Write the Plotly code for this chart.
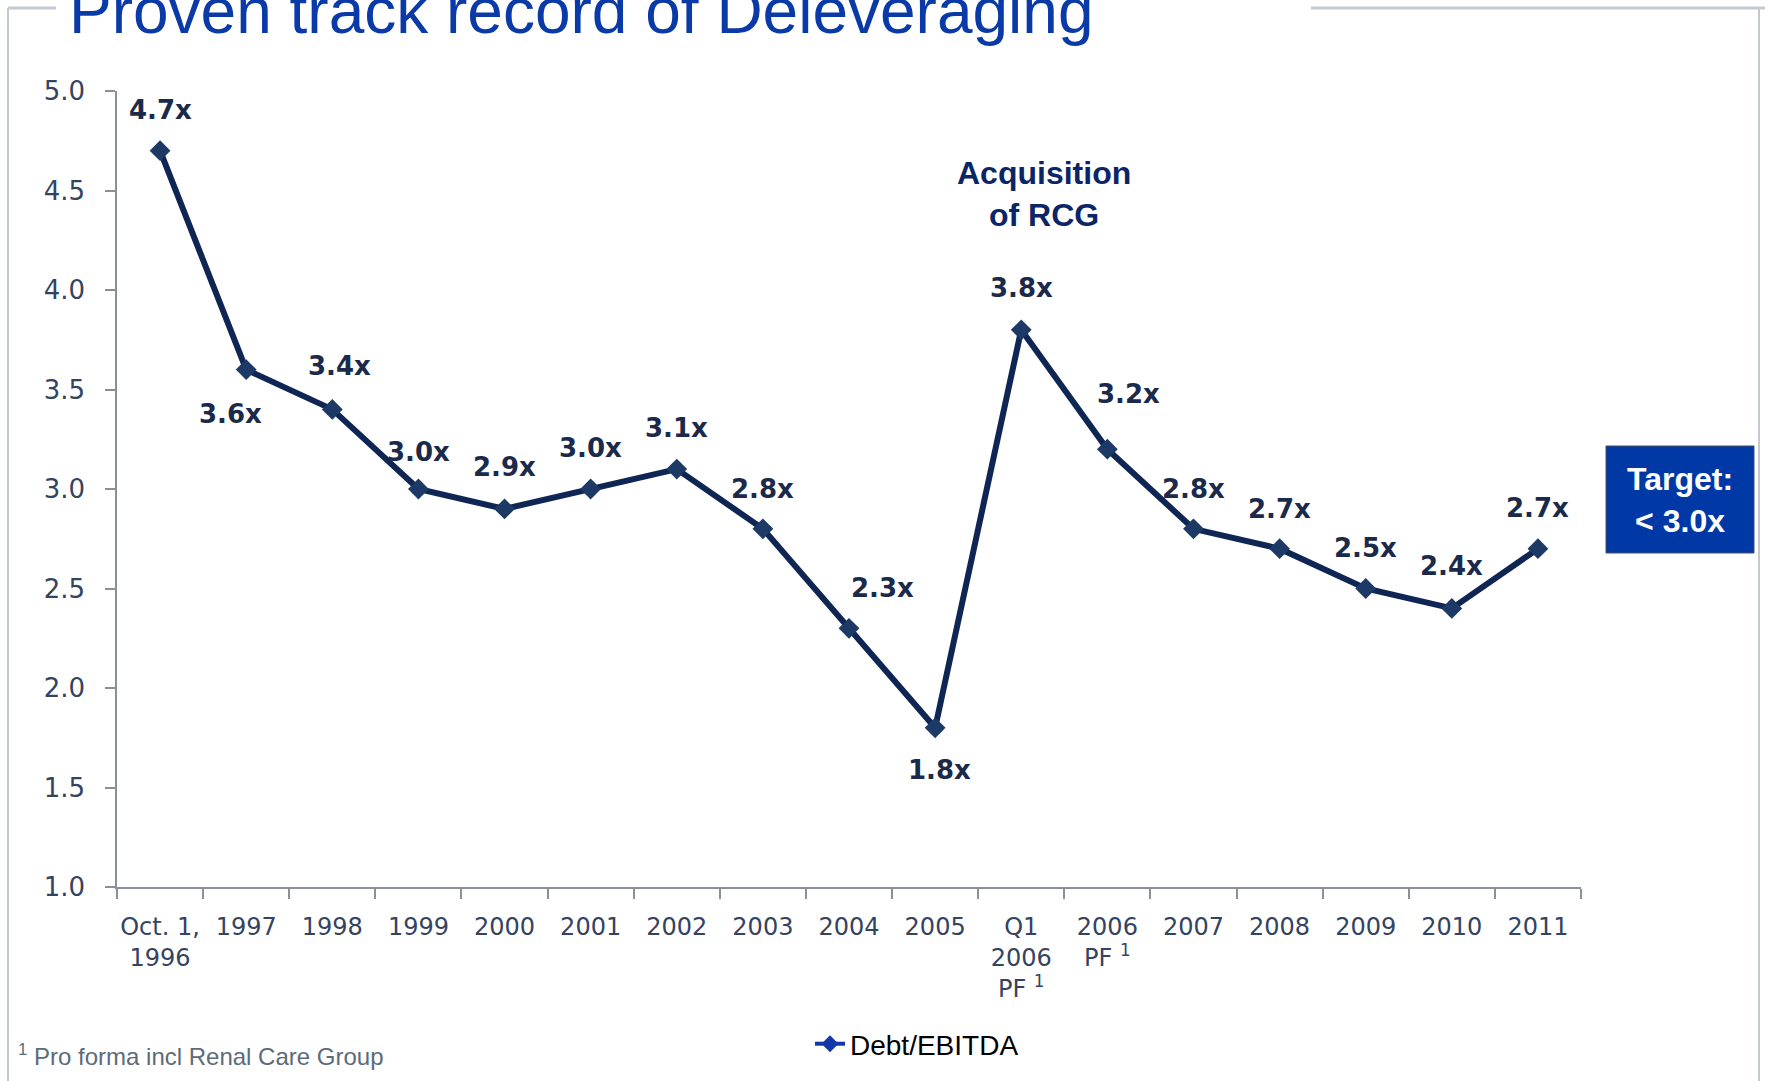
import plotly.graph_objects as go

# ---- data ----
categories = ["Oct. 1,<br>1996", "1997", "1998", "1999", "2000", "2001", "2002",
              "2003", "2004", "2005", "Q1<br>2006<br>PF <sup>1</sup>",
              "2006<br>PF <sup>1</sup>", "2007", "2008", "2009", "2010", "2011"]
debt_ebitda = [4.7, 3.6, 3.4, 3.0, 2.9, 3.0, 3.1, 2.8, 2.3, 1.8, 3.8, 3.2, 2.8, 2.7, 2.5, 2.4, 2.7]
y_ticks = [1.0, 1.5, 2.0, 2.5, 3.0, 3.5, 4.0, 4.5, 5.0]
series_name = "Debt/EBITDA"
title_text = "Proven track record of Deleveraging"
footnote_text = "<sup>1</sup> Pro forma incl Renal Care Group"
event_text = "Acquisition<br>of RCG"
target_text = "Target:<br>< 3.0x"

# ---- label placement (pixel offsets from each point) ----
label_dx = [0, -16, 7, 0, 0, 0, 0, 0, 33, 4, 0, 21, 0, 0, 0, 0, 0]
label_dy = [-41, 44, -43, -37, -42, -41, -41, -40, -40, 42, -42, -55, -40, -40, -41, -42, -41]

W, H = 1765, 1081
L, R, T, B = 117, 184, 91, 194
PW, PH = W - L - R, H - T - B

def px_x(x):
    return (x - L) / PW

def px_y(y):
    return (H - B - y) / PH

fig = go.Figure()
fig.add_trace(go.Scatter(
    x=categories, y=debt_ebitda, mode="lines+markers",
    line=dict(color="#0f2654", width=6),
    marker=dict(symbol="diamond", size=16, color="#1d3a66"),
    showlegend=False, cliponaxis=False, hoverinfo="skip"))
# legend entry
fig.add_trace(go.Scatter(
    x=[categories[0]], y=[None], mode="lines+markers", name=series_name,
    line=dict(color="#1538a8", width=4),
    marker=dict(symbol="diamond", size=13, color="#1538a8"),
    showlegend=True))

annotations = []
for i, (v, dx, dy) in enumerate(zip(debt_ebitda, label_dx, label_dy)):
    annotations.append(dict(
        x=i, y=v, xref="x", yref="y", text=f"{v:.1f}x", showarrow=False,
        xanchor="center", yanchor="middle", xshift=dx, yshift=-dy,
        font=dict(family="DejaVu Sans", size=26, color="#1b2a4a", weight="bold")))

annotations.append(dict(
    x=10, y=4.48, xref="x", yref="y", text=event_text, showarrow=False,
    xanchor="center", yanchor="middle", xshift=23,
    font=dict(family="Liberation Sans", size=32, color="#0c2566", weight="bold")))

annotations.append(dict(
    x=px_x(67), y=px_y(49), xref="paper", yref="paper", text=title_text,
    showarrow=False, xanchor="left", yanchor="bottom",
    font=dict(family="Liberation Sans", size=64, color="#0a3aa8")))

annotations.append(dict(
    x=px_x(1680), y=px_y(500), xref="paper", yref="paper", text=target_text,
    showarrow=False, xanchor="center", yanchor="middle",
    font=dict(family="Liberation Sans", size=32, color="#ffffff", weight="bold")))

annotations.append(dict(
    x=px_x(16), y=px_y(1055), xref="paper", yref="paper", text=footnote_text,
    showarrow=False, xanchor="left", yanchor="middle",
    font=dict(family="Liberation Sans", size=24, color="#5b6b7a")))

frame = "#c3c8d1"
shapes = [
    dict(type="line", xref="paper", yref="paper", x0=px_x(8), x1=px_x(8), y0=px_y(8), y1=px_y(1081),
         line=dict(color=frame, width=2)),
    dict(type="line", xref="paper", yref="paper", x0=px_x(8), x1=px_x(56), y0=px_y(8), y1=px_y(8),
         line=dict(color=frame, width=3)),
    dict(type="line", xref="paper", yref="paper", x0=px_x(1311), x1=px_x(1765), y0=px_y(8), y1=px_y(8),
         line=dict(color=frame, width=3)),
    dict(type="line", xref="paper", yref="paper", x0=px_x(1759), x1=px_x(1759), y0=px_y(8), y1=px_y(1081),
         line=dict(color=frame, width=2)),
    dict(type="rect", xref="paper", yref="paper", x0=px_x(1606), x1=px_x(1754), y0=px_y(446), y1=px_y(553),
         fillcolor="#0039a6", line=dict(color="#4a4f5a", width=1)),
]

tick_font = dict(family="DejaVu Sans", size=24, color="#34435f")
fig.update_layout(
    width=W, height=H,
    margin=dict(l=L, r=R, t=T, b=B),
    paper_bgcolor="white", plot_bgcolor="white",
    annotations=annotations, shapes=shapes,
    legend=dict(orientation="h", x=px_x(810), y=px_y(1044), xanchor="left", yanchor="middle",
                font=dict(family="Liberation Sans", size=28, color="#000000"),
                bgcolor="rgba(0,0,0,0)"),
    xaxis=dict(type="category", categoryorder="array", categoryarray=categories,
               range=[-0.5, len(categories) - 0.5], tickson="boundaries",
               ticks="outside", ticklen=10, tickcolor="#8a8f98", tickwidth=1.5,
               showline=True, linecolor="#8a8f98", linewidth=1.5, showgrid=False,
               tickfont=tick_font, tickangle=0, zeroline=False, ticklabelstandoff=17),
    yaxis=dict(range=[1, 5], tickvals=y_ticks, ticktext=[f"{t:.1f}" for t in y_ticks],
               ticks="outside", ticklen=10, tickcolor="#8a8f98", tickwidth=1.5,
               showline=True, linecolor="#8a8f98", linewidth=1.5, showgrid=False,
               zeroline=False, tickfont=dict(family="DejaVu Sans", size=26, color="#34435f"),
               ticklabelstandoff=15),
)

fig.write_html("out.html")
